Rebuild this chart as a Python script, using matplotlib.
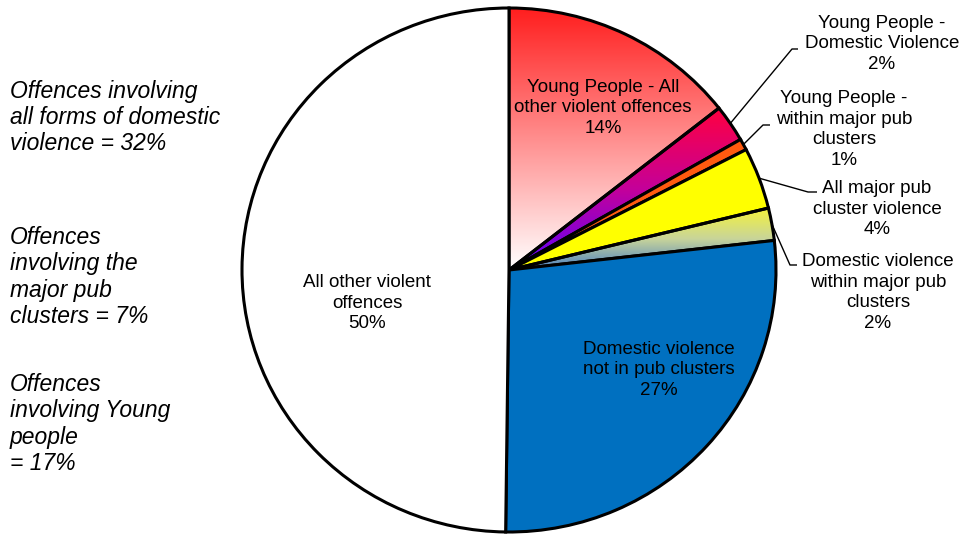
import numpy as np
import matplotlib.pyplot as plt
from matplotlib.colors import LinearSegmentedColormap

plt.rcParams['font.family'] = ['Liberation Sans', 'DejaVu Sans']

# offence categories, clockwise from twelve o'clock
labels = ["Young People - All\nother violent offences",
          "Young People -\nDomestic Violence",
          "Young People -\nwithin major pub\nclusters",
          "All major pub\ncluster violence",
          "Domestic violence\nwithin major pub\nclusters",
          "Domestic violence\nnot in pub clusters",
          "All other violent\noffences"]
shares = [14.4, 2.3, 0.7, 3.8, 2.0, 27.0, 49.8]
colours = ['#ff2222', '#e0007a', '#ff5a10', '#ffff00', '#e8e860', '#0070c0', '#ffffff']

# slices shaded with a top-to-bottom gradient
gradients = {0: ['#ffffff', '#ff1e1e'],
             1: ['#5a00ff', '#c4009a', '#ff0040'],
             4: ['#4a80c4', '#c8d49a', '#f4f23c']}

group_notes = ["Offences involving\nall forms of domestic\nviolence = 32%",
               "Offences\ninvolving the\nmajor pub\nclusters = 7%",
               "Offences\ninvolving Young\npeople\n= 17%"]

W, H = 961, 535
X0, Y0, RX, RY = 509, 270, 267, 262


def px(x, y):
    # pixel position (from top-left) -> data coords of the pie axes
    return (x - X0) / RX, (Y0 - y) / RY


fig = plt.figure(figsize=(W / 100, H / 100), dpi=100)
ax = fig.add_axes([0, 0, 1, 1])

wedges, _ = ax.pie(shares, colors=colours, startangle=90, counterclock=False,
                   radius=1.0, center=(0, 0),
                   wedgeprops=dict(edgecolor='black', linewidth=2.2))

grad = np.linspace(0, 1, 256).reshape(-1, 1)
for i, stops in gradients.items():
    w = wedges[i]
    w.set_facecolor('none')
    bb = w.get_path().get_extents()
    cmap = LinearSegmentedColormap.from_list('g%d' % i, stops)
    im = ax.imshow(grad, cmap=cmap, origin='lower', aspect='auto', zorder=0,
                   extent=[bb.x0, bb.x1, bb.y0, bb.y1], interpolation='bilinear')
    im.set_clip_path(w)

# slice labels
label_pos = [(603, 108), (882, 44), (844, 129.5), (877, 209),
             (878, 292.5), (659, 370), (367, 303)]
for lab, v, p in zip(labels, shares, label_pos):
    ax.text(*px(*p), "%s\n%.0f%%" % (lab, v), ha='center', va='center',
            fontsize=13.5, linespacing=1.27, color='black')

# leader lines for the thin slices
elbows = {1: [(792, 49), (798, 49)],
          2: [(763, 125), (770, 125)],
          3: [(808, 192), (817, 192)],
          4: [(790, 265), (797, 265)]}
for i, pts in elbows.items():
    w = wedges[i]
    mid = np.deg2rad((w.theta1 + w.theta2) / 2)
    xs = [np.cos(mid)] + [px(*q)[0] for q in pts]
    ys = [np.sin(mid)] + [px(*q)[1] for q in pts]
    ax.plot(xs, ys, color='black', lw=1.0, solid_capstyle='butt')

# group totals on the left
note_pos = [(10, 117.5), (10, 277), (10, 424)]
for note, p in zip(group_notes, note_pos):
    ax.text(*px(*p), note, ha='left', va='center', fontsize=16.5,
            style='italic', linespacing=1.17, color='black')

ax.set_aspect('auto')
ax.set_xlim(px(0, 0)[0], px(W, 0)[0])
ax.set_ylim(px(0, H)[1], px(0, 0)[1])
ax.axis('off')

fig.savefig('out.png', dpi=100, facecolor='white')
